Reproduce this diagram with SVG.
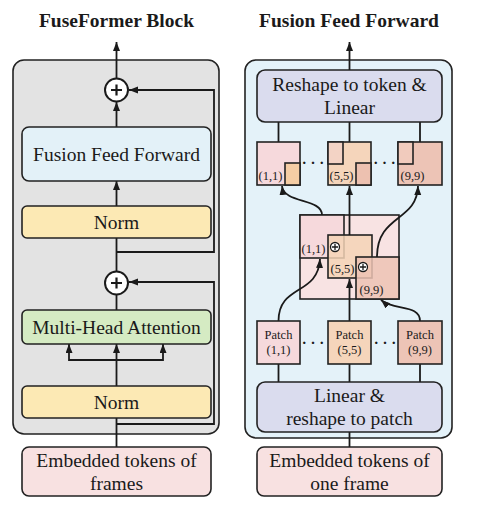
<svg xmlns="http://www.w3.org/2000/svg" width="482" height="520" viewBox="0 0 482 520">
<defs>
<marker id="ah" markerUnits="userSpaceOnUse" markerWidth="10" markerHeight="8" refX="9" refY="3.5" orient="auto">
<path d="M0,0 L9,3.5 L0,7 z" fill="#1a1a1a"/>
</marker>
</defs>
<style>
.t{font-family:"Liberation Serif","Times New Roman",serif;fill:#1a1a1a;text-anchor:middle}
.big{font-size:19.5px}
.title{font-size:19.5px;font-weight:bold}
.sm{font-size:12.5px}
.dots{font-size:15px;font-weight:bold}
.box{stroke:#222;stroke-width:1.6}
.ln{fill:none;stroke:#1a1a1a;stroke-width:1.8}
.ar{fill:none;stroke:#1a1a1a;stroke-width:1.8;marker-end:url(#ah)}
.pk{fill:#f6d9dc}
.pe{fill:#f5d5bb}
.rs{fill:#edc4b6}
</style>
<rect width="482" height="520" fill="#ffffff"/>

<!-- panels -->
<g id="panel-left">
<rect x="13" y="60" width="206" height="374" rx="11" fill="#e3e3e3" class="box"/>
<text class="t title" x="116.5" y="27">FuseFormer Block</text>
</g>
<g id="panel-right">
<rect x="245" y="60" width="207" height="378" rx="11" fill="#e4f2f9" class="box"/>
<text class="t title" x="349" y="27">Fusion Feed Forward</text>
</g>

<!-- connectors -->
<g id="connectors">
<line class="ar" x1="116.5" y1="78" x2="116.5" y2="42"/>
<line class="ar" x1="116.5" y1="127" x2="116.5" y2="102"/>
<line class="ar" x1="116.5" y1="206" x2="116.5" y2="181"/>
<line class="ln" x1="116.5" y1="238" x2="116.5" y2="271"/>
<polyline class="ar" points="116.5,252 214,252 214,90 129,90"/>
<line class="ln" x1="116.5" y1="295" x2="116.5" y2="310"/>
<polyline class="ar" points="116.5,424 214,424 214,282 129,282"/>
<line class="ar" x1="116.5" y1="386" x2="116.5" y2="344"/>
<polyline class="ar" points="116.5,360 69,360 69,344"/>
<polyline class="ar" points="116.5,360 163,360 163,344"/>
<line class="ln" x1="116.5" y1="447" x2="116.5" y2="418"/>

<line class="ar" x1="349.5" y1="70" x2="349.5" y2="42"/>
<line class="ln" x1="278.5" y1="122" x2="278.5" y2="142"/>
<line class="ln" x1="349.5" y1="122" x2="349.5" y2="142"/>
<line class="ln" x1="420" y1="122" x2="420" y2="142"/>
<line class="ln" x1="278.5" y1="364" x2="278.5" y2="382"/>
<line class="ln" x1="349.5" y1="364" x2="349.5" y2="382"/>
<line class="ln" x1="420" y1="364" x2="420" y2="382"/>
<line class="ln" x1="349.5" y1="447" x2="349.5" y2="432"/>
</g>

<!-- left nodes -->
<g id="sum-top">
<circle cx="116.5" cy="90" r="11.5" fill="#ffffff" stroke="#1a1a1a" stroke-width="2"/>
<path d="M111,90 H122 M116.5,84.5 V95.5" stroke="#1a1a1a" stroke-width="2.2"/>
</g>
<g id="fusion-feed-forward">
<rect x="22" y="127" width="189" height="54" rx="7" fill="#e3f1f8" class="box"/>
<text class="t big" x="116.5" y="161">Fusion Feed Forward</text>
</g>
<g id="norm-top">
<rect x="22" y="206" width="189" height="32" rx="5" fill="#fce9b4" class="box"/>
<text class="t big" x="116.5" y="229">Norm</text>
</g>
<g id="sum-bottom">
<circle cx="116.5" cy="283" r="11.5" fill="#ffffff" stroke="#1a1a1a" stroke-width="2"/>
<path d="M111,283 H122 M116.5,277.5 V288.5" stroke="#1a1a1a" stroke-width="2.2"/>
</g>
<g id="multi-head-attention">
<rect x="22" y="310" width="189" height="34" rx="5" fill="#d5ebc3" class="box"/>
<text class="t big" x="116.5" y="334">Multi-Head Attention</text>
</g>
<g id="norm-bottom">
<rect x="22" y="386" width="189" height="32" rx="5" fill="#fce9b4" class="box"/>
<text class="t big" x="116.5" y="409">Norm</text>
</g>
<g id="embedded-frames">
<rect x="22" y="447" width="189" height="49" rx="7" fill="#f8e1e1" class="box"/>
<text class="t big" x="116.5" y="467">Embedded tokens of</text>
<text class="t big" x="116.5" y="490">frames</text>
</g>

<!-- right nodes -->
<g id="reshape-to-token">
<rect x="257" y="70" width="185" height="52" rx="8" fill="#dadcee" class="box"/>
<text class="t big" x="349.5" y="91">Reshape to token &amp;</text>
<text class="t big" x="349.5" y="114">Linear</text>
</g>

<g id="out-patch-11">
<rect x="257" y="142" width="43" height="43" class="box pk"/>
<rect x="285" y="163" width="15" height="22" class="box" fill="#f5cda4"/>
<text class="t sm" x="270.5" y="180">(1,1)</text>
</g>
<g id="out-patch-55">
<rect x="328" y="142" width="43" height="43" class="box pe"/>
<rect x="328" y="142" width="15" height="22" class="box" fill="#f3d3c5"/>
<rect x="356" y="163" width="15" height="22" class="box" fill="#edc1b0"/>
<text class="t sm" x="341.5" y="180">(5,5)</text>
</g>
<g id="out-patch-99">
<rect x="398" y="142" width="44" height="43" class="box rs"/>
<rect x="398" y="142" width="15" height="22" class="box" fill="#f1cbbd"/>
<text class="t sm" x="412.5" y="180">(9,9)</text>
</g>
<text class="t dots" x="313" y="168">· · ·</text>
<text class="t dots" x="384.5" y="168">· · ·</text>

<g id="overlap">
<rect x="300" y="215" width="99" height="84" fill="#f8e3e3" class="box"/>
<rect x="300" y="215" width="44" height="43" class="box pk"/>
<rect x="328" y="235" width="44" height="43" class="box" fill="#f5d3b6" fill-opacity="0.85"/>
<rect x="356" y="257" width="43" height="42" class="box" fill="#edc3b4" fill-opacity="0.85"/>
<circle cx="335" cy="247" r="4.5" fill="#ffffff" stroke="#1a1a1a" stroke-width="1.3"/>
<path d="M332,247 H338 M335,244 V250" stroke="#1a1a1a" stroke-width="1.3"/>
<circle cx="363" cy="267" r="4.5" fill="#ffffff" stroke="#1a1a1a" stroke-width="1.3"/>
<path d="M360,267 H366 M363,264 V270" stroke="#1a1a1a" stroke-width="1.3"/>
<text class="t sm" x="313.5" y="253">(1,1)</text>
<text class="t sm" x="342.5" y="273">(5,5)</text>
<text class="t sm" x="371.5" y="294">(9,9)</text>
</g>

<g id="overlap-arrows">
<path class="ar" d="M322,215 C322,198 284,204 282,186"/>
<line class="ar" x1="349.5" y1="235" x2="349.5" y2="186"/>
<path class="ar" d="M377,257 C377,214 417,222 418,186"/>
<path class="ar" d="M278.5,321 C278.5,284 318,296 320,259"/>
<line class="ar" x1="349.5" y1="321" x2="349.5" y2="279"/>
<path class="ar" d="M420,321 C420,304 394,311 381,300"/>
</g>

<g id="in-patch-11">
<rect x="257" y="321" width="43" height="43" class="box pk"/>
<text class="t sm" x="278.5" y="339">Patch</text>
<text class="t sm" x="278.5" y="354">(1,1)</text>
</g>
<g id="in-patch-55">
<rect x="328" y="321" width="43" height="43" class="box pe"/>
<text class="t sm" x="349.5" y="339">Patch</text>
<text class="t sm" x="349.5" y="354">(5,5)</text>
</g>
<g id="in-patch-99">
<rect x="398" y="321" width="44" height="43" class="box rs"/>
<text class="t sm" x="420" y="339">Patch</text>
<text class="t sm" x="420" y="354">(9,9)</text>
</g>
<text class="t dots" x="313" y="348">· · ·</text>
<text class="t dots" x="385" y="348">· · ·</text>

<g id="linear-reshape">
<rect x="257" y="382" width="185" height="50" rx="8" fill="#dadcee" class="box"/>
<text class="t big" x="349.5" y="402">Linear &amp;</text>
<text class="t big" x="349.5" y="425">reshape to patch</text>
</g>
<g id="embedded-one-frame">
<rect x="257" y="447" width="185" height="49" rx="7" fill="#f8e1e1" class="box"/>
<text class="t big" x="349.5" y="467">Embedded tokens of</text>
<text class="t big" x="349.5" y="490">one frame</text>
</g>
</svg>
